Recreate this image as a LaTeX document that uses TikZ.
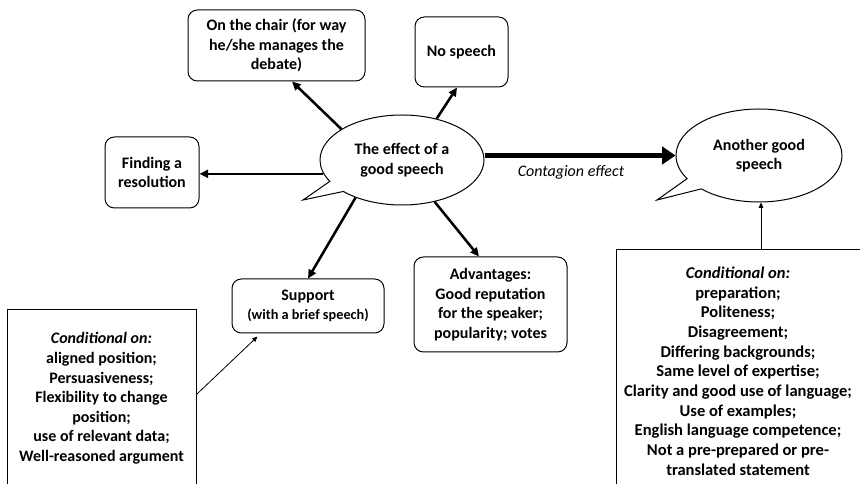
\documentclass[tikz,border=0pt]{standalone}
\usepackage{fontspec}
\setmainfont{Carlito}
\usetikzlibrary{shapes.callouts,arrows.meta,calc}
\begin{document}
\begin{tikzpicture}[x=0.75pt,y=-0.75pt,
  txt/.style={font=\bfseries\fontsize{12}{14.7}\selectfont, align=center},
  rbox/.style={txt, draw, rounded corners=7pt, line width=0.75pt, inner sep=0pt},
  bubble/.style={txt, ellipse callout, draw, line width=0.75pt, inner sep=0pt, callout pointer arc=16},
  frame/.style={draw, line width=0.75pt, inner sep=0pt},
  arr/.style={line width=1.9pt, -{Triangle[length=6.5pt,width=6pt]}},
  thinarr/.style={line width=0.6pt, -{Triangle[length=4pt,width=3.5pt]}},
  bigarr/.style={line width=3.75pt, -{Triangle[length=10pt,width=13pt]}}
]
\clip (0,0) rectangle (860,484);
\node[bubble, minimum width=123pt, minimum height=67.5pt, callout absolute pointer={(303,200)}] (main) at (402,160) {The effect of a\\good speech};
\node[bubble, minimum width=124.5pt, minimum height=69.75pt, callout absolute pointer={(657,200)}] (ag) at (759,155.5) {Another good\\speech};
\node[rbox, minimum width=132.75pt, minimum height=53.25pt] (chair) at (276.5,45.5) {On the chair (for way\\he/she manages the\\debate)};
\node[rbox, minimum width=69.75pt, minimum height=52.5pt] (nosp) at (461.5,52) {No speech};
\node[rbox, minimum width=70.5pt, minimum height=53.25pt] (find) at (152,172.5) {Finding a\\resolution};
\node[rbox, minimum width=114pt, minimum height=40.5pt] (sup) at (308,306) {Support\\{\fontsize{10.7}{13}\selectfont(with a brief speech)}};
\node[rbox, minimum width=114.75pt, minimum height=71.25pt] (adv) at (490.5,304.5) {Advantages:\\Good reputation\\for the speaker;\\popularity; votes};
\node[frame, minimum width=141.75pt, minimum height=147pt, anchor=north west] (lc) at (7,309) {};
\node[txt] (lct) at (101.5,398.5) {\textit{Conditional on:}\\aligned position;\\Persuasiveness;\\Flexibility to change\\position;\\use of relevant data;\\Well-reasoned argument};
\node[frame, minimum width=186pt, minimum height=190pt, anchor=north west] (rc) at (616,249) {};
\node[txt, font=\bfseries\fontsize{12.4}{14.75}\selectfont] (rct) at (738,371) {\textit{Conditional on:}\\preparation;\\Politeness;\\Disagreement;\\Differing backgrounds;\\Same level of expertise;\\Clarity and good use of language;\\Use of examples;\\English language competence;\\Not a pre-prepared or pre-\\translated statement};
\node[font=\itshape\fontsize{12}{14}\selectfont] (ce) at (571,172) {Contagion effect};
\draw[arr] (main.153) -- ($(chair.south)+(15.5,0)$);
\draw[arr] (main.50) -- ($(nosp.south)+(-4.5,0)$);
\draw[arr] (main.190) -- (main.190 -| find.east);
\draw[arr] (main.219) -- (sup.north);
\draw[arr] (main.308) -- ($(adv.north)+(-11.5,0)$);
\draw[bigarr] (main.east |- ag.west) -- (ag.west);
\draw[thinarr] ($(lc.north east)+(0,85)$) -- ($(sup.south west)+(26,3)$);
\draw[thinarr] ($(rc.north west)+(145,0)$) -- ($(ag.south)+(2,0)$);
\end{tikzpicture}
\end{document}
